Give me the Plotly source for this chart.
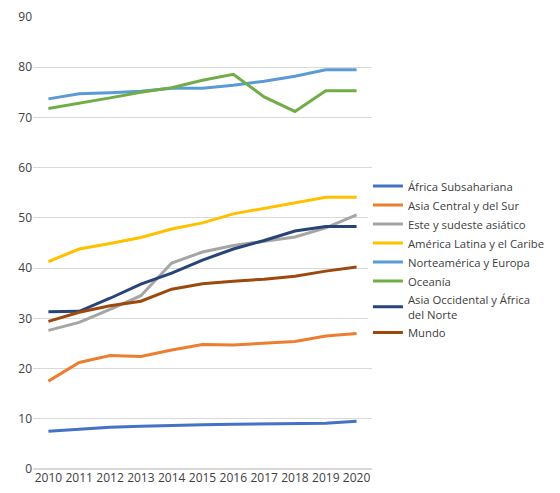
import plotly.graph_objects as go

years = ["2010", "2011", "2012", "2013", "2014", "2015", "2016", "2017", "2018", "2019", "2020"]

africa_sub = [7.5, 7.9, 8.3, 8.5, 8.7, 8.8, 8.9, 9.0, 9.1, 9.1, 9.5]
asia_central_sur = [17.5, 21.2, 22.6, 22.4, 23.7, 24.8, 24.7, 25.0, 25.4, 26.5, 27.0]
este_sudeste = [27.6, 29.2, 31.8, 34.5, 41.0, 43.2, 44.5, 45.3, 46.2, 48.0, 50.6]
america_latina = [41.3, 43.8, 44.9, 46.1, 47.8, 49.0, 50.8, 51.9, 53.1, 54.1, 54.1]
norteamerica_europa = [73.7, 74.7, 74.9, 75.2, 75.8, 75.8, 76.4, 77.2, 78.2, 79.5, 79.5]
oceania = [71.8, 72.8, 73.9, 75.0, 75.9, 77.4, 78.6, 74.1, 71.2, 75.3, 75.3]
asia_occ_africa_norte = [31.3, 31.4, 34.0, 36.8, 39.0, 41.6, 43.8, 45.5, 47.4, 48.3, 48.3]
mundo = [29.4, 31.2, 32.5, 33.4, 35.8, 36.9, 37.4, 37.8, 38.4, 39.4, 40.2]

series = [
    ("África Subsahariana", africa_sub, "#4472C4"),
    ("Asia Central y del Sur", asia_central_sur, "#ED7D31"),
    ("Este y sudeste asiático", este_sudeste, "#A5A5A5"),
    ("América Latina y el Caribe", america_latina, "#FFC000"),
    ("Norteamérica y Europa", norteamerica_europa, "#5B9BD5"),
    ("Oceanía", oceania, "#70AD47"),
    ("Asia Occidental y África<br>del Norte", asia_occ_africa_norte, "#264478"),
    ("Mundo", mundo, "#9E480E"),
]

fig = go.Figure()
for name, vals, color in series:
    fig.add_trace(go.Scatter(x=years, y=vals, name=name, mode="lines",
                             line=dict(color=color, width=3)))

fig.update_layout(
    width=552, height=485,
    margin=dict(l=25, r=188, t=9, b=24),
    paper_bgcolor="white", plot_bgcolor="white",
    font=dict(family="Open Sans, sans-serif", size=12, color="#595959"),
    showlegend=True,
    legend=dict(x=0.988, y=0.658, xanchor="left", yanchor="top",
                font=dict(size=11.3, color="#404040"),
                tracegroupgap=0, itemwidth=30, traceorder="normal"),
    xaxis=dict(type="category", range=[-0.5, 10.5], showgrid=False, automargin=False,
               tickangle=0, showline=False, ticks="",
               tickfont=dict(size=12, color="#404040")),
    yaxis=dict(range=[0, 90], dtick=10, showgrid=True, gridcolor="#D9D9D9", automargin=False,
               gridwidth=1, zeroline=True, zerolinecolor="#D9D9D9",
               showline=False, ticks="", tickfont=dict(size=12, color="#404040")),
)

fig.write_html("out.html")
